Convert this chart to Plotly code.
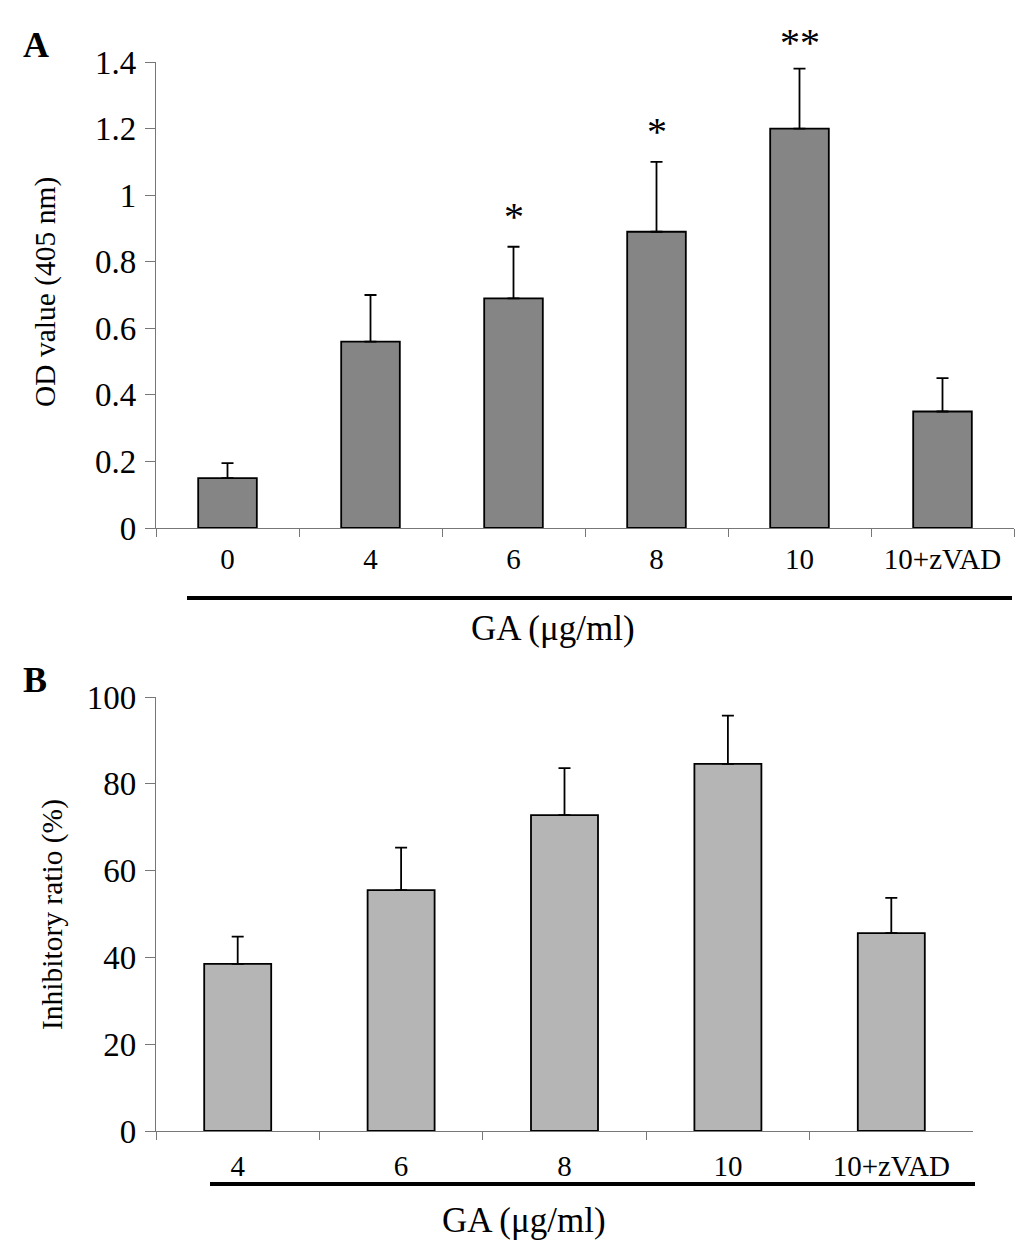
import plotly.graph_objects as go

# panel A: caspase activity (OD 405 nm)
cats_a = ["0", "4", "6", "8", "10", "10+zVAD"]
od_vals = [0.15, 0.56, 0.69, 0.89, 1.20, 0.35]
od_err = [0.045, 0.14, 0.155, 0.21, 0.18, 0.10]
od_sig = ["", "", "*", "*", "**", ""]

# panel B: inhibitory ratio (%)
cats_b = ["4", "6", "8", "10", "10+zVAD"]
inh_vals = [38.5, 55.5, 72.8, 84.6, 45.6]
inh_err = [6.3, 9.8, 10.8, 11.1, 8.1]

# page body has an 8px margin, so the figure is drawn 8px in from the corner
OFF = 8
W, H = 1033 - OFF, 1252 - OFF
FONT = "Liberation Serif, Times New Roman, serif"


def px(x):
    return (x - OFF) / W


def py(y):
    return 1 - (y - OFF) / H


fig = go.Figure()

fig.add_trace(go.Bar(
    x=cats_a, y=od_vals, width=0.41,
    marker=dict(color="#858585", line=dict(color="black", width=1.8)),
    error_y=dict(type="data", array=od_err, arrayminus=[0] * len(od_err),
                 symmetric=False, color="black", thickness=1.8, width=6),
    xaxis="x", yaxis="y", showlegend=False,
))

fig.add_trace(go.Bar(
    x=cats_b, y=inh_vals, width=0.41,
    marker=dict(color="#b5b5b5", line=dict(color="black", width=1.8)),
    error_y=dict(type="data", array=inh_err, arrayminus=[0] * len(inh_err),
                 symmetric=False, color="black", thickness=1.8, width=6),
    xaxis="x2", yaxis="y2", showlegend=False,
))

axis_common = dict(
    showline=True, linecolor="#777777", linewidth=1.3,
    ticks="outside", tickcolor="#777777", tickwidth=1.3,
    showgrid=False, zeroline=False, automargin=False,
)

fig.update_layout(
    width=W, height=H,
    margin=dict(l=0, r=0, t=0, b=0),
    plot_bgcolor="white", paper_bgcolor="white",
    font=dict(family=FONT, color="black"),
    xaxis=dict(domain=[px(156), px(1014)], anchor="y", type="category",
               tickson="boundaries", tickangle=0, ticklen=8,
               tickfont=dict(size=29), ticklabelstandoff=5, **axis_common),
    yaxis=dict(domain=[py(528), py(62)], anchor="x", range=[0, 1.4],
               tickvals=[0, 0.2, 0.4, 0.6, 0.8, 1, 1.2, 1.4],
               ticktext=["0", "0.2", "0.4", "0.6", "0.8", "1", "1.2", "1.4"],
               ticklen=10, tickfont=dict(size=33), ticklabelstandoff=2,
               **axis_common),
    xaxis2=dict(domain=[px(156), px(973)], anchor="y2", type="category",
                tickson="boundaries", tickangle=0, ticklen=8,
                tickfont=dict(size=29), ticklabelstandoff=9, **axis_common),
    yaxis2=dict(domain=[py(1131), py(697)], anchor="x2", range=[0, 100],
                tickvals=[0, 20, 40, 60, 80, 100],
                ticklen=10, tickfont=dict(size=33), ticklabelstandoff=2,
                **axis_common),
)

# significance stars above error bars (category index as x position)
for i, (v, e, s) in enumerate(zip(od_vals, od_err, od_sig)):
    if s:
        fig.add_annotation(x=i, y=v + e, xref="x", yref="y", text=s,
                           showarrow=False, yanchor="bottom",
                           yshift=2 if len(s) > 1 else 6,
                           font=dict(size=40, family=FONT, color="black"))

# black group bars under the category labels
fig.add_shape(type="line", xref="paper", yref="paper",
              x0=px(187), x1=px(1012), y0=py(598), y1=py(598),
              line=dict(color="black", width=4))
fig.add_shape(type="line", xref="paper", yref="paper",
              x0=px(210), x1=px(975), y0=py(1184), y1=py(1184),
              line=dict(color="black", width=4))

notes = [
    dict(x=px(553), y=py(628), text="GA (μg/ml)", size=35, angle=0),
    dict(x=px(524), y=py(1220), text="GA (μg/ml)", size=35, angle=0),
    dict(x=px(46), y=py(292), text="OD value (405 nm)", size=29.5, angle=-90),
    dict(x=px(52), y=py(915), text="Inhibitory ratio (%)", size=29.5, angle=-90),
    dict(x=px(36), y=py(45), text="<b>A</b>", size=36, angle=0),
    dict(x=px(35), y=py(680), text="<b>B</b>", size=36, angle=0),
]
for n in notes:
    fig.add_annotation(x=n["x"], y=n["y"], xref="paper", yref="paper",
                       text=n["text"], showarrow=False, textangle=n["angle"],
                       xanchor="center", yanchor="middle",
                       font=dict(size=n["size"], family=FONT, color="black"))

fig.write_html("out.html")
